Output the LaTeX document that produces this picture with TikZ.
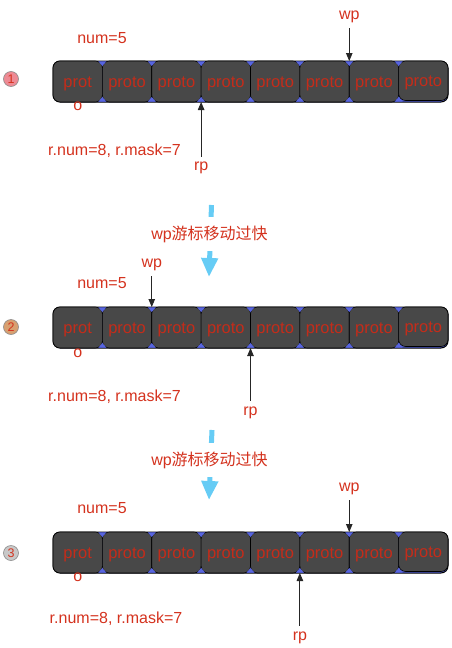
\documentclass[tikz,border=0pt]{standalone}
\usepackage{fontspec}
\setmainfont{Liberation Sans}
\newfontfamily\cjk{Noto Sans CJK SC}
\usetikzlibrary{arrows.meta}
\definecolor{txtred}{HTML}{D4321E}
\definecolor{protored}{HTML}{C42C1A}
\definecolor{cellgrey}{HTML}{484848}
\definecolor{jointblue}{HTML}{5865E0}
\definecolor{skyblue}{HTML}{66CCF5}
\definecolor{badgeone}{HTML}{EE8A94}
\definecolor{badgetwo}{HTML}{D8A070}
\definecolor{badgethree}{HTML}{C8C8C8}
\newcommand{\ptxt}[1]{\raisebox{-2pt}[\height][\depth]{#1}}
\tikzset{
  lbl/.style={text=txtred, font=\fontsize{16}{18}\selectfont, inner sep=1pt},
  container/.style={rectangle, rounded corners=7pt, fill=jointblue, draw=black, line width=1pt,
    minimum width=395pt, minimum height=41pt, inner sep=0pt, outer sep=0pt},
  cellbox/.style={rectangle, rounded corners=7pt, fill=cellgrey, draw=black, line width=0.6pt,
    minimum width=49.375pt, minimum height=41pt, inner sep=0pt, outer sep=0pt,
    text=protored, font=\fontsize{16.5}{18}\selectfont},
  lastcell/.style={cellbox, minimum height=39.5pt},
  joint/.style={fill=jointblue, draw=none},
  ptr/.style={draw=black!85, line width=0.9pt, -{Triangle[length=8pt,width=6.5pt]}, shorten <=4pt},
  rptr/.style={ptr, shorten <=5pt},
  badge/.style={circle, minimum size=15pt, inner sep=0pt, draw=black!45, line width=0.6pt,
    text=txtred, font=\fontsize{12.5}{13}\selectfont},
  bigarrow/.style={draw=skyblue, line width=5pt, -{Triangle[length=19pt,width=16pt]}},
  midtext/.style={lbl, fill=white, minimum height=34pt, inner xsep=2pt},
}
\begin{document}
\begin{tikzpicture}[x=1pt, y=-1pt]
\useasboundingbox (0,0) rectangle (451,648);

% ---------- three buffers ----------
\foreach \s/\yc in {1/81.5, 2/327.5, 3/552.5} {
  \node[container] (box\s) at (250.5,\yc) {};
  \foreach \i in {1,...,7} {
    \node[cellbox] (c\s-\i) at ({53+49.375*(\i-0.5)},\yc) {\ptxt{\ifnum\i=1 prot\else proto\fi}};
  }
  \node[lastcell] (c\s-8) at ({53+49.375*7.5},\yc-0.75) {\ptxt{proto}};
  \foreach \i in {1,...,7} {
    \fill[joint] ([xshift=-4pt,yshift=-0.4pt]c\s-\i.north east) -- ([xshift=4pt,yshift=-0.4pt]c\s-\i.north east)
      -- ([yshift=-5pt]c\s-\i.north east) -- cycle;
    \fill[joint] ([xshift=-4pt,yshift=0.4pt]c\s-\i.south east) -- ([xshift=4pt,yshift=0.4pt]c\s-\i.south east)
      -- ([yshift=5pt]c\s-\i.south east) -- cycle;
  }
}

% ---------- section 1 ----------
\node[lbl] (o1) at (77.7,106) {o};
\node[lbl] (num1) at (102,38) {num=5};
\node[badge, fill=badgeone] (b1) at (11,79) {1};
\node[lbl] (rn1) at (114.5,151) {r.num=8, r.mask=7};
\node[lbl] (wp1) at (349.25,17) {wp};
\node[lbl] (rp1) at (201.125,168) {rp};
\draw[ptr] (wp1) -- (c1-6.north east);
\draw[ptr] (rp1) -- (c1-3.south east);

% ---------- transition 1 ----------
\coordinate (m1a) at (211.5,205);
\coordinate (m1b) at (209,277);
\draw[bigarrow] (m1a) -- (m1b);
\node[midtext] (t1) at (209.5,234) {wp{\cjk 游标移动过快}};

% ---------- section 2 ----------
\node[lbl] (o2) at (77.7,353) {o};
\node[lbl] (num2) at (102,283) {num=5};
\node[badge, fill=badgetwo] (b2) at (11,327) {2};
\node[lbl] (rn2) at (114.5,397) {r.num=8, r.mask=7};
\node[lbl] (wp2) at (151.75,265) {wp};
\node[lbl] (rp2) at (250.5,413) {rp};
\draw[ptr] (wp2) -- (c2-2.north east);
\draw[rptr] (rp2) -- (c2-4.south east);

% ---------- transition 2 ----------
\coordinate (m2a) at (212,430);
\coordinate (m2b) at (209,500);
\draw[bigarrow] (m2a) -- (m2b);
\node[midtext] (t2) at (209.5,460) {wp{\cjk 游标移动过快}};

% ---------- section 3 ----------
\node[lbl] (o3) at (77.7,577) {o};
\node[lbl] (num3) at (102,508) {num=5};
\node[badge, fill=badgethree] (b3) at (11,553) {3};
\node[lbl] (rn3) at (116,619) {r.num=8, r.mask=7};
\node[lbl] (wp3) at (349.25,489) {wp};
\node[lbl] (rp3) at (299.875,638) {rp};
\draw[ptr] (wp3) -- (c3-6.north east);
\draw[rptr] (rp3) -- (c3-5.south east);
\end{tikzpicture}
\end{document}
